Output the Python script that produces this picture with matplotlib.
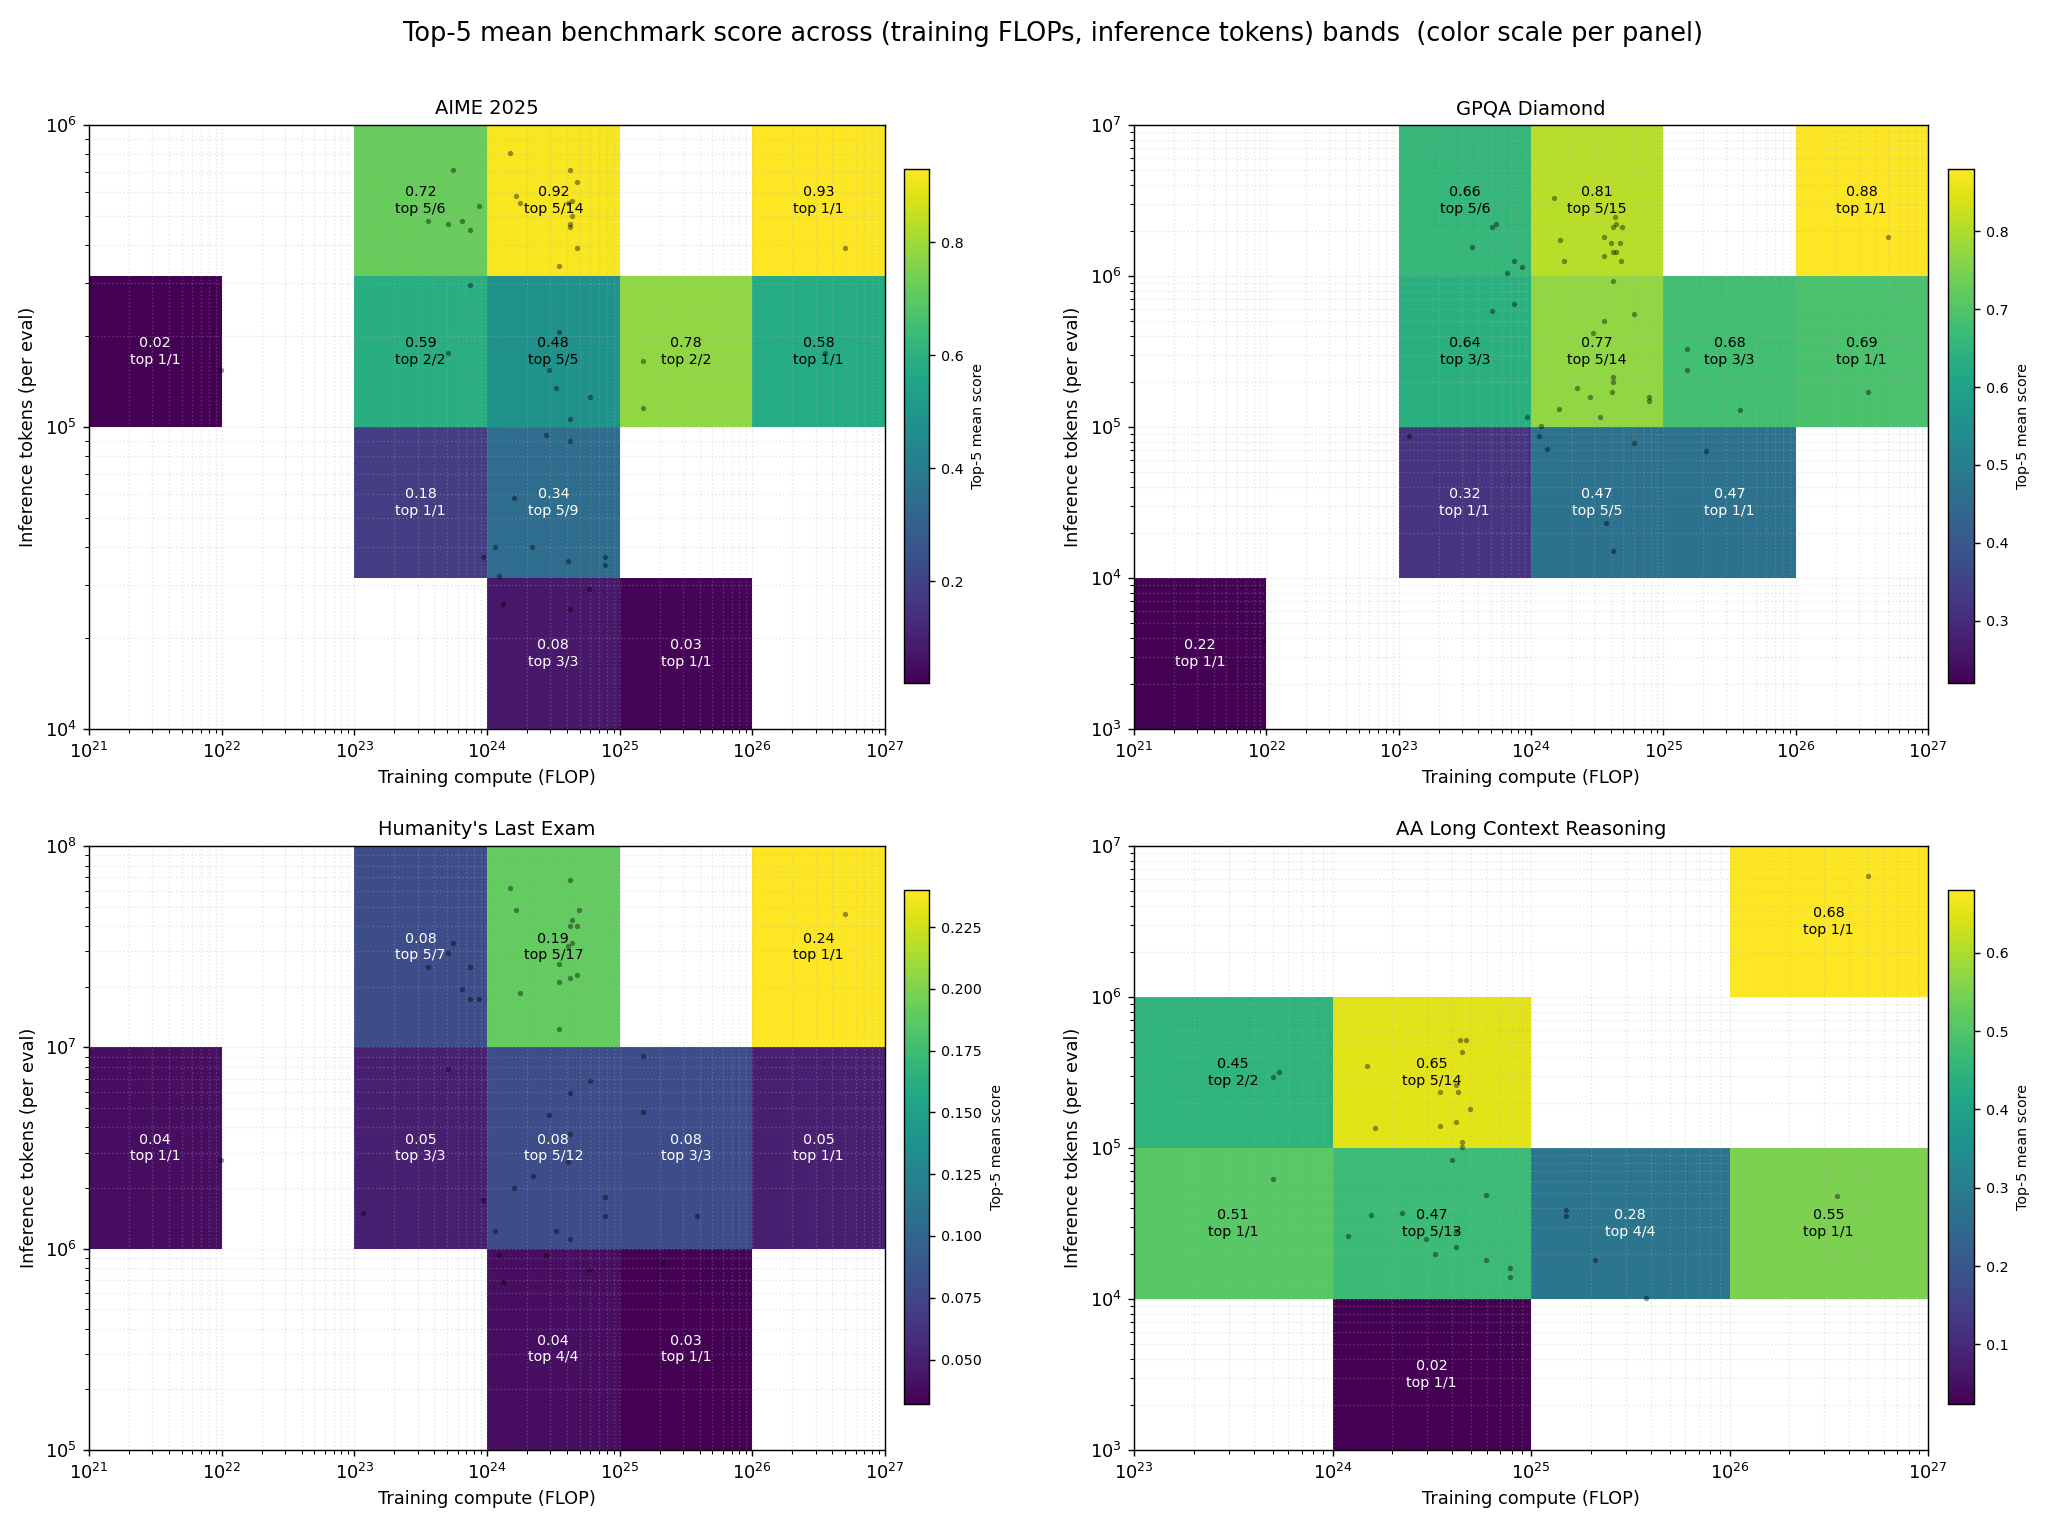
import numpy as np
import matplotlib
matplotlib.use("Agg")
import matplotlib.pyplot as plt
from matplotlib.patches import Rectangle
from matplotlib.colors import Normalize
from matplotlib.cm import ScalarMappable

# ---------------- data ----------------
# AIME 2025 (inference-token bands are half decades)
aime_x_lo = [1e21, 1e23, 1e24, 1e26, 1e23, 1e24, 1e25, 1e26, 1e23, 1e24, 1e24, 1e25]
aime_y_lo = [1e5, 10**5.5, 10**5.5, 10**5.5, 1e5, 1e5, 1e5, 1e5, 10**4.5, 10**4.5, 1e4, 1e4]
aime_val = [0.02, 0.72, 0.92, 0.93, 0.59, 0.48, 0.78, 0.58, 0.18, 0.34, 0.08, 0.03]
aime_top = [1, 5, 5, 1, 2, 5, 2, 1, 1, 5, 3, 1]
aime_n = [1, 6, 14, 1, 2, 5, 2, 1, 1, 9, 3, 1]
aime_flops = [1.5e24, 5.5e23, 4.2e24, 4.8e24, 1.66e24, 8.7e23, 1.78e24, 4.1e24, 4.4e24, 4.4e24,
              4.2e24, 4.2e24, 3.6e23, 5.1e23, 6.5e23, 7.5e23, 4.8e24, 3.5e24, 5.0e26, 7.5e23,
              3.5e24, 5.1e23, 1.5e25, 2.95e24, 9.9e21, 3.3e24, 6.0e24, 1.5e25, 3.5e26, 4.2e24,
              2.8e24, 4.2e24, 1.6e24, 1.15e24, 2.2e24, 9.3e23, 4.1e24, 7.8e24, 7.8e24, 1.23e24,
              5.9e24, 1.32e24, 4.2e24]
aime_tokens = [8.1e5, 7.1e5, 7.1e5, 6.5e5, 5.8e5, 5.4e5, 5.5e5, 5.5e5, 5.6e5, 5.0e5,
               4.7e5, 4.6e5, 4.8e5, 4.7e5, 4.8e5, 4.5e5, 3.9e5, 3.4e5, 3.9e5, 2.95e5,
               2.07e5, 1.76e5, 1.66e5, 1.55e5, 1.55e5, 1.35e5, 1.26e5, 1.16e5, 1.76e5, 1.06e5,
               9.4e4, 9.0e4, 5.8e4, 4.0e4, 4.0e4, 3.7e4, 3.6e4, 3.7e4, 3.5e4, 3.2e4,
               2.9e4, 2.6e4, 2.5e4]

# GPQA Diamond
gpqa_x_lo = [1e21, 1e23, 1e24, 1e26, 1e23, 1e24, 1e25, 1e26, 1e23, 1e24, 1e25]
gpqa_y_lo = [1e3, 1e6, 1e6, 1e6, 1e5, 1e5, 1e5, 1e5, 1e4, 1e4, 1e4]
gpqa_val = [0.22, 0.66, 0.81, 0.88, 0.64, 0.77, 0.68, 0.69, 0.32, 0.47, 0.47]
gpqa_top = [1, 5, 5, 1, 3, 5, 3, 1, 1, 5, 1]
gpqa_n = [1, 6, 15, 1, 3, 14, 3, 1, 1, 5, 1]
gpqa_flops = [1.5e24, 5.4e23, 5.1e23, 3.6e23, 1.66e24, 4.3e24, 4.4e24, 4.2e24, 4.9e24, 3.55e24,
              4.0e24, 4.7e24, 4.2e24, 4.4e24, 3.55e24, 4.8e24, 1.78e24, 7.4e23, 8.5e23, 6.6e23,
              4.2e24, 5.1e23, 7.4e23, 6.0e24, 3.55e24, 2.95e24, 1.5e25, 1.5e25, 4.2e24, 4.2e24,
              2.24e24, 4.1e24, 2.8e24, 7.8e24, 7.8e24, 1.62e24, 3.3e24, 3.8e25, 3.5e26, 5.0e26,
              9.3e23, 1.2e24, 1.2e23, 1.15e24, 1.32e24, 6.0e24, 2.1e25, 3.7e24, 4.2e24, 9.5e21]
gpqa_tokens = [3.3e6, 2.2e6, 2.1e6, 1.55e6, 1.74e6, 2.45e6, 2.2e6, 2.1e6, 2.1e6, 1.8e6,
               1.66e6, 1.66e6, 1.45e6, 1.45e6, 1.35e6, 1.26e6, 1.26e6, 1.26e6, 1.15e6, 1.05e6,
               9.3e5, 5.9e5, 6.5e5, 5.6e5, 5.0e5, 4.2e5, 3.3e5, 2.4e5, 2.14e5, 2.0e5,
               1.8e5, 1.7e5, 1.58e5, 1.58e5, 1.48e5, 1.32e5, 1.17e5, 1.29e5, 1.7e5, 1.8e6,
               1.17e5, 1.02e5, 8.7e4, 8.7e4, 7.2e4, 7.8e4, 6.9e4, 2.3e4, 1.5e4, 3.8e3]

# Humanity's Last Exam
hle_x_lo = [1e21, 1e23, 1e24, 1e26, 1e23, 1e24, 1e25, 1e26, 1e24, 1e25]
hle_y_lo = [1e6, 1e7, 1e7, 1e7, 1e6, 1e6, 1e6, 1e6, 1e5, 1e5]
hle_val = [0.04, 0.08, 0.19, 0.24, 0.05, 0.08, 0.08, 0.05, 0.04, 0.032]
hle_top = [1, 5, 5, 1, 3, 5, 3, 1, 4, 1]
hle_n = [1, 7, 17, 1, 3, 12, 3, 1, 4, 1]
hle_flops = [4.2e24, 1.5e24, 1.66e24, 4.9e24, 4.4e24, 4.2e24, 4.8e24, 5.5e23, 4.1e24, 4.4e24,
             5.1e23, 3.6e23, 7.5e23, 3.5e24, 4.8e24, 4.2e24, 3.5e24, 6.5e23, 7.5e23, 8.7e23,
             1.78e24, 3.5e24, 1.5e25, 5.1e23, 6.0e24, 4.2e24, 2.95e24, 1.5e25, 4.2e24, 4.1e24,
             9.9e21, 2.24e24, 1.6e24, 9.3e23, 7.8e24, 1.17e23, 7.8e24, 3.8e25, 1.15e24, 3.3e24,
             4.2e24, 1.23e24, 2.8e24, 2.1e25, 5.9e24, 1.32e24, 5.0e26]
hle_tokens = [6.8e7, 6.2e7, 4.8e7, 4.8e7, 4.3e7, 4.0e7, 4.0e7, 3.3e7, 3.2e7, 3.3e7,
              2.95e7, 2.5e7, 2.5e7, 2.6e7, 2.3e7, 2.2e7, 2.1e7, 1.95e7, 1.74e7, 1.74e7,
              1.86e7, 1.23e7, 9.1e6, 7.8e6, 6.8e6, 5.9e6, 4.6e6, 4.8e6, 3.7e6, 2.7e6,
              2.75e6, 2.3e6, 2.0e6, 1.74e6, 1.8e6, 1.5e6, 1.45e6, 1.45e6, 1.23e6, 1.23e6,
              1.12e6, 9.3e5, 9.3e5, 8.5e5, 7.8e5, 6.8e5, 4.6e7]

# AA Long Context Reasoning
aa_x_lo = [1e26, 1e23, 1e24, 1e23, 1e24, 1e25, 1e26, 1e24]
aa_y_lo = [1e6, 1e5, 1e5, 1e4, 1e4, 1e4, 1e4, 1e3]
aa_val = [0.68, 0.45, 0.65, 0.51, 0.47, 0.28, 0.55, 0.024]
aa_top = [1, 2, 5, 1, 5, 4, 1, 1]
aa_n = [1, 2, 14, 1, 13, 4, 1, 1]
aa_flops = [5.0e26, 4.4e24, 4.7e24, 4.5e24, 1.5e24, 5.4e23, 5.0e23, 4.2e24, 4.3e24, 3.5e24,
            4.9e24, 1.64e24, 3.5e24, 4.2e24, 4.5e24, 4.5e24, 4.0e24, 5.0e23, 5.9e24, 1.5e25,
            1.5e25, 3.5e26, 1.57e24, 2.24e24, 4.2e24, 1.2e24, 2.95e24, 3.3e24, 4.2e24, 5.9e24,
            2.1e25, 7.8e24, 7.8e24, 3.8e25]
aa_tokens = [6.3e6, 5.2e5, 5.2e5, 4.3e5, 3.5e5, 3.2e5, 2.95e5, 2.6e5, 2.35e5, 2.35e5,
             1.8e5, 1.35e5, 1.4e5, 1.48e5, 1.1e5, 1.02e5, 8.3e4, 6.2e4, 4.9e4, 3.9e4,
             3.55e4, 4.8e4, 3.6e4, 3.7e4, 2.8e4, 2.6e4, 2.5e4, 2.0e4, 2.2e4, 1.8e4,
             1.8e4, 1.6e4, 1.4e4, 1.02e4]

panels = [
    dict(title="AIME 2025", x_lo=aime_x_lo, y_lo=aime_y_lo, val=aime_val, top=aime_top, n=aime_n,
         fx=aime_flops, ty=aime_tokens, ystep=10**0.5, xlim=(1e21, 1e27), ylim=(1e4, 1e6)),
    dict(title="GPQA Diamond", x_lo=gpqa_x_lo, y_lo=gpqa_y_lo, val=gpqa_val, top=gpqa_top, n=gpqa_n,
         fx=gpqa_flops, ty=gpqa_tokens, ystep=10.0, xlim=(1e21, 1e27), ylim=(1e3, 1e7)),
    dict(title="Humanity's Last Exam", x_lo=hle_x_lo, y_lo=hle_y_lo, val=hle_val, top=hle_top, n=hle_n,
         fx=hle_flops, ty=hle_tokens, ystep=10.0, xlim=(1e21, 1e27), ylim=(1e5, 1e8)),
    dict(title="AA Long Context Reasoning", x_lo=aa_x_lo, y_lo=aa_y_lo, val=aa_val, top=aa_top, n=aa_n,
         fx=aa_flops, ty=aa_tokens, ystep=10.0, xlim=(1e23, 1e27), ylim=(1e3, 1e7)),
]

# ---------------- figure ----------------
W, H = 2048, 1528
fig = plt.figure(figsize=(W / 128, H / 128), dpi=128)

ax_boxes = [(89, 125, 885, 729), (1134, 125, 1928, 729),
            (89, 846, 885, 1450), (1134, 846, 1928, 1450)]
cb_boxes = [(904, 169, 929, 683), (1948, 169, 1974, 683),
            (904, 890, 929, 1404), (1948, 890, 1974, 1404)]

def frac(box):
    x0, y0, x1, y1 = box
    return [x0 / W, 1 - y1 / H, (x1 - x0) / W, (y1 - y0) / H]

cmap = plt.get_cmap("viridis")
for p, abox, cbox in zip(panels, ax_boxes, cb_boxes):
    ax = fig.add_axes(frac(abox))
    ax.set_xscale("log")
    ax.set_yscale("log")
    vals = np.array(p["val"])
    norm = Normalize(vmin=vals.min(), vmax=vals.max())
    for xl, yl, v, k, n in zip(p["x_lo"], p["y_lo"], p["val"], p["top"], p["n"]):
        xh, yh = xl * 10, yl * p["ystep"]
        ax.add_patch(Rectangle((xl, yl), xh - xl, yh - yl, facecolor=cmap(norm(v)),
                               edgecolor="none", linewidth=0, zorder=1))
        cx, cy = np.sqrt(xl * xh), np.sqrt(yl * yh)
        tc = "black" if norm(v) > 0.5 else "white"
        ax.text(cx, cy, f"{v:.2f}\ntop {k}/{n}", ha="center", va="center",
                fontsize=8, color=tc, zorder=4)
    ax.scatter(p["fx"], p["ty"], s=9, color="black", alpha=0.4, linewidths=0, zorder=3)
    ax.set_xlim(*p["xlim"])
    ax.set_ylim(*p["ylim"])
    ax.grid(True, which="both", linestyle=":", linewidth=0.8, alpha=0.3)
    ax.set_title(p["title"], fontsize=11)
    ax.set_xlabel("Training compute (FLOP)", fontsize=10)
    ax.set_ylabel("Inference tokens (per eval)", fontsize=10)
    cax = fig.add_axes(frac(cbox))
    sm = ScalarMappable(norm=norm, cmap=cmap)
    cb = fig.colorbar(sm, cax=cax)
    cb.set_label("Top-5 mean score", fontsize=8)
    cb.ax.tick_params(labelsize=8)

fig.suptitle("Top-5 mean benchmark score across (training FLOPs, inference tokens) bands  (color scale per panel)",
             fontsize=14.4, x=0.514, y=0.986)
fig.savefig("out.png", dpi=128)
